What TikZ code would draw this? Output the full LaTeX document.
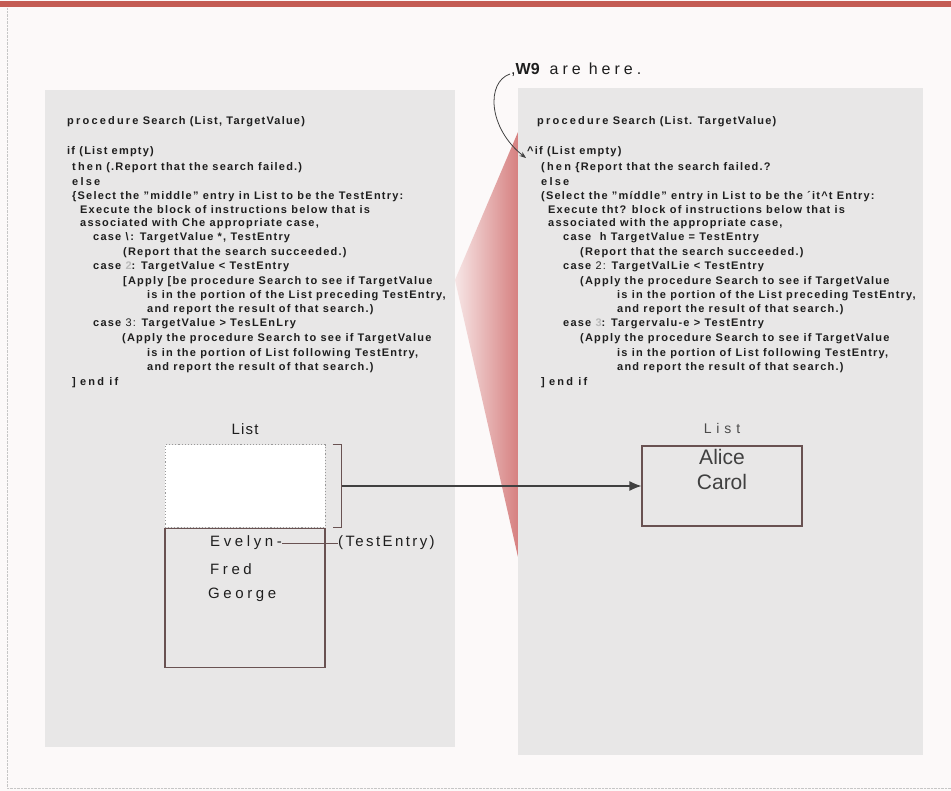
\documentclass[tikz,border=0pt]{standalone}
\usepackage{fontspec}
\setmainfont{Liberation Sans}
\usepackage{xcolor}
\usetikzlibrary{arrows.meta, positioning}

\definecolor{pagewhite}{RGB}{252,249,249}
\definecolor{panelgray}{RGB}{232,231,231}
\definecolor{bandred}{RGB}{196,92,84}
\definecolor{wedgered}{RGB}{214,128,128}
\definecolor{wedgelight}{RGB}{247,230,230}
\definecolor{boxline}{RGB}{105,82,82}
\definecolor{inkgray}{RGB}{30,30,30}

% extra-wide letter spacing for a few words of the scan
\newcommand{\lsp}[1]{{\addfontfeature{LetterSpace=20}#1}}

\tikzset{
    codeline/.style={anchor=west, inner sep=0pt, text=inkgray,
        font=\bfseries\fontsize{11}{12}\selectfont\addfontfeature{LetterSpace=11}},
    listbox/.style={draw=boxline, line width=1.1pt, inner sep=0pt, minimum width=160},
    entry/.style={anchor=west, inner sep=0pt, text=inkgray,
        font=\fontsize{15}{16}\selectfont\addfontfeature{LetterSpace=24}},
}

\begin{document}
\begin{tikzpicture}[x=1pt, y=-1pt, >=Stealth]

    % =================================================================
    % 1. PAGE, FRAME AND THE TWO GRAY PANELS
    % =================================================================
    \useasboundingbox (0,0) rectangle (951,791);
    \fill[pagewhite] (0,0) rectangle (951,791);
    \fill[bandred] (0,1) rectangle (951,7);
    \draw[gray!45, densely dotted] (7,8) -- (7,788) -- (951,788);

    \fill[panelgray] (45,90) rectangle (455,747);
    \fill[panelgray] (518,88) rectangle (923,755);

    % pink zoom wedge between the panels
    \shade[left color=wedgelight, right color=wedgered]
        (518,132) -- (455,280) -- (518,557) -- cycle;

    % =================================================================
    % 2. LEFT PANEL: THE PROCEDURE
    % =================================================================
    \foreach \x/\y/\t [count=\i] in {
        67/122/{\lsp{procedure} Search (List, TargetValue)},
        67/152/{if (List empty)},
        72/168/{\lsp{then} (.Report that the search failed.)},
        72/182/{\lsp{else}},
        72/197/{\{Select the "middle" entry in List to be the TestEntry:},
        80/210/{Execute the block of instructions below that is},
        80/224/{associated with Che appropriate case,},
        93/238/{case \textbackslash\,: TargetValue *, TestEntry},
        123/253/{(Report that the search succeeded.)},
        93/267/{case {\color{gray!55}2}: TargetValue < TestEntry},
        123/282/{[Apply [be procedure Search to see if TargetValue},
        147/296/{is in the portion of the List preceding TestEntry,},
        147/310/{and report the result of that search.)},
        93/324/{case {\mdseries 3:} TargetValue > TesLEnLry},
        122/339/{(Apply the procedure Search to see if TargetValue},
        147/354/{is in the portion of List following TestEntry,},
        147/368/{and report the result of that search.)},
        72/383/{] \lsp{end if}}} {
        \node[codeline] (L\i) at (\x,\y) {\t};
    }

    % =================================================================
    % 3. RIGHT PANEL: THE SAME PROCEDURE, ONE LEVEL DOWN
    % =================================================================
    \foreach \x/\y/\t [count=\i] in {
        537/122/{\lsp{procedure} Search (List. TargetValue)},
        527/152/{\textasciicircum if (List empty)},
        541/168/{\lsp{(hen} \{Report that the search failed.?},
        541/182/{\lsp{else}},
        541/197/{(Select the "míddle" entry in List to be the ´it\textasciicircum t Entry:},
        548/210/{Execute tht? block of instructions below that is},
        548/224/{associated with the appropriate case,},
        563/238/{case\ \ h TargetValue = TestEntry},
        580/253/{(Report that the search succeeded.)},
        563/267/{case {\mdseries 2:} TargetValLie < TestEntry},
        580/282/{(Apply the procedure Search to see if TargetValue},
        617/296/{is in the portion of the List preceding TestEntry,},
        617/310/{and report the result of that search.)},
        563/324/{ease {\color{gray!55}3}: Targervalu-e > TestEntry},
        580/339/{(Apply the procedure Search to see if TargetValue},
        617/354/{is in the portion of List following TestEntry,},
        617/368/{and report the result of that search.)},
        541/383/{] \lsp{end if}}} {
        \node[codeline] (R\i) at (\x,\y) {\t};
    }

    % "we are here" pointer
    \node[anchor=west, inner sep=0pt, text=inkgray, font=\fontsize{16}{17}\selectfont]
        (here) at (511,70) {,\textbf{W9}\hspace{10pt}{\addfontfeature{LetterSpace=25}are\hspace{8pt}here.}};
    \draw[->, thick, inkgray!85] ([xshift=-1pt,yshift=-4pt]here.west)
        .. controls (486,82) and (488,128) .. ([xshift=-1pt,yshift=-6pt]R2.west);

    % =================================================================
    % 4. THE LISTS AND THE CONNECTOR
    % =================================================================
    \node[listbox, draw=gray!80, dotted, line width=1pt, fill=white, minimum height=82]
        (window) at (245,486) {};
    \node[listbox, minimum height=139, below=0pt of window] (leftlist) {};
    \node[entry, font=\fontsize{15}{16}\selectfont\addfontfeature{LetterSpace=8}, above=10pt of window]
        (leftlabel) {List};

    \node[entry] (evelyn) at (210,543) {Evelyn-};
    \node[entry] (fred) at (210,569) {Fred};
    \node[entry] (george) at (208,595) {George};
    \node[entry, font=\fontsize{15}{16}\selectfont\addfontfeature{LetterSpace=16}]
        (testentry) at (338,543) {(TestEntry)};
    \draw[boxline] (evelyn.east) -- (testentry.west);

    % bracket round the window
    \draw[boxline, line width=1pt] ([xshift=7pt]window.north east) -- ++(9,0)
        coordinate (brktop) |- ([xshift=7pt]window.south east);
    \coordinate (brk) at (brktop |- window.east);

    \node[listbox, minimum height=80] (rightlist) at (722,486) {};
    \node[anchor=south, inner sep=0pt, text=inkgray!80,
        font=\fontsize{14}{15}\selectfont\addfontfeature{LetterSpace=35}]
        (rightlabel) at (722,434) {List};
    \node[anchor=north, inner sep=0pt, text=inkgray!85, align=center,
        font=\fontsize{21}{25}\selectfont] (names) at (722,449) {Alice\\Carol};

    \draw[->, inkgray!85, line width=1.1pt, >={Latex[length=12pt,width=10pt]}]
        (brk) -- (rightlist.west);

\end{tikzpicture}
\end{document}
